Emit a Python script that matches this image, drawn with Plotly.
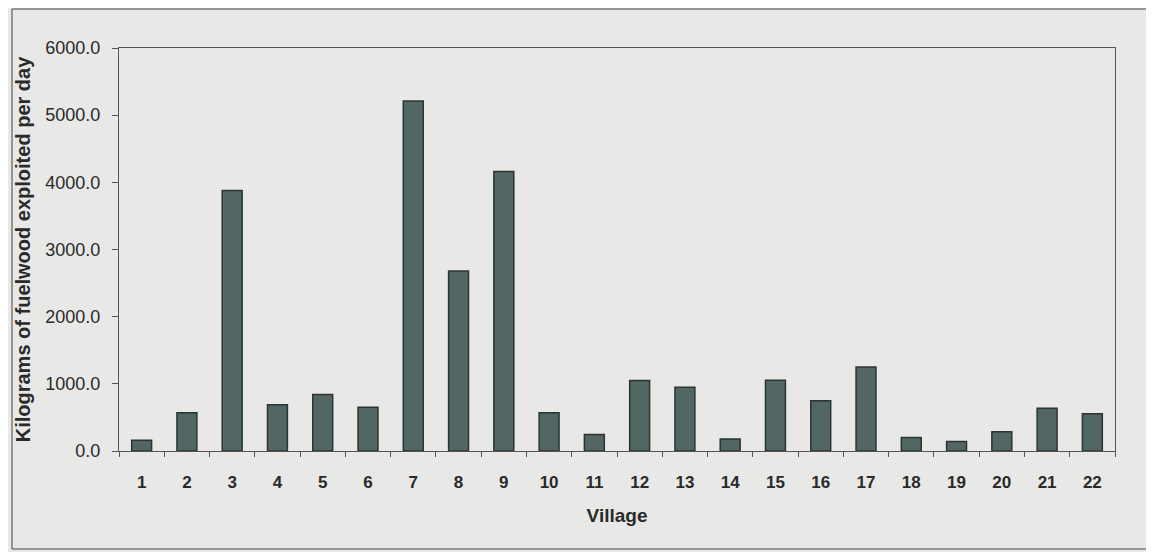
import plotly.graph_objects as go

# village numbers and daily fuelwood use (kg/day)
villages = [str(i) for i in range(1, 23)]
fuelwood_kg = [160, 570, 3880, 690, 840, 650, 5210, 2680, 4160, 570, 245,
               1050, 950, 180, 1055, 750, 1250, 200, 140, 285, 635, 555]
y_ticks = [0, 1000, 2000, 3000, 4000, 5000, 6000]
y_tick_labels = ["0.0", "1000.0", "2000.0", "3000.0", "4000.0", "5000.0", "6000.0"]

bg = "#e8e8e6"
line_col = "#555555"
font_family = "Liberation Sans, Arial, sans-serif"

fig = go.Figure(
    go.Bar(
        x=villages,
        y=fuelwood_kg,
        marker=dict(color="#526764", line=dict(color="#2b3432", width=1.5)),
    )
)

# the page body adds an 8px offset, so margins are shifted to compensate
fig.update_layout(
    width=1154,
    height=552,
    paper_bgcolor=bg,
    plot_bgcolor=bg,
    margin=dict(l=111, r=47, t=40, b=109, autoexpand=False),
    bargap=0.56,
    showlegend=False,
    font=dict(family=font_family, color="#2a2a2a"),
)

fig.update_xaxes(
    automargin=False,
    title=dict(text="<b>Village</b>", font=dict(size=19), standoff=17),
    tickfont=dict(size=17),
    tickprefix="<b>",
    ticksuffix="</b>",
    ticklabelstandoff=16,
    ticks="outside",
    tickson="boundaries",
    ticklen=5,
    tickcolor=line_col,
    showline=True,
    linecolor=line_col,
    linewidth=1,
    mirror=True,
    showgrid=False,
)

fig.update_yaxes(
    automargin=False,
    title=dict(text="<b>Kilograms of fuelwood exploited per day</b>",
               font=dict(size=20), standoff=9),
    range=[0, 6000],
    tickvals=y_ticks,
    ticktext=y_tick_labels,
    tickfont=dict(size=18),
    ticklabelstandoff=8,
    ticks="outside",
    ticklen=6,
    tickcolor=line_col,
    showline=True,
    linecolor=line_col,
    linewidth=1,
    mirror=True,
    showgrid=False,
    zeroline=False,
)

# outer chart frame
fig.add_shape(
    type="rect", xref="paper", yref="paper",
    x0=-0.1074, x1=1.032, y0=-0.2432, y1=1.0968,
    line=dict(color="#444444", width=1),
    layer="below",
)

fig.write_html("out.html")
